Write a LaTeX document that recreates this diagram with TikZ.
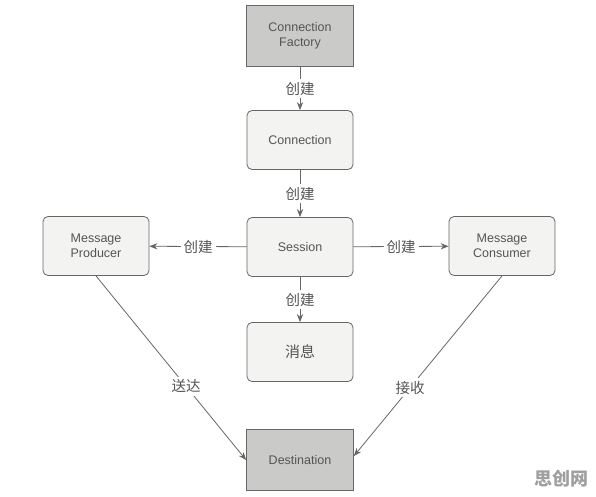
\documentclass[tikz,border=0pt]{standalone}
\usepackage{fontspec}
\setmainfont{Liberation Sans}
\newfontfamily\cjk{Noto Sans CJK SC}
\usetikzlibrary{arrows.meta, positioning}
\definecolor{linegray}{HTML}{666666}
\definecolor{textgray}{HTML}{555555}
\definecolor{lightfill}{HTML}{F3F3F1}
\definecolor{darkfill}{HTML}{CACAC8}
\tikzset{
  box/.style={draw=linegray, line width=0.8pt, rounded corners=5pt, fill=lightfill, minimum height=59pt, minimum width=106pt, text=textgray, align=center, font=\fontsize{12.5}{15}\selectfont},
  sq/.style={draw=linegray, line width=0.8pt, fill=darkfill, minimum height=61pt, minimum width=107pt, text=textgray, align=center, font=\fontsize{12.5}{15}\selectfont},
  arr/.style={-{Stealth[length=2.8mm, width=2.2mm]}, draw=linegray, line width=0.8pt},
  lbl/.style={fill=white, text=textgray, inner sep=3pt, font=\cjk\fontsize{14.5}{16}\selectfont},
}

\begin{document}
\begin{tikzpicture}[x=1pt, y=-1pt]
  \useasboundingbox (0,0) rectangle (596,497);
  \node[sq] (factory) at (300,36) {Connection\\Factory};
  \node[box] (conn) at (300,140) {Connection};
  \node[box] (session) at (300,247) {Session};
  \node[box] (msg) at (300,352) {{\cjk\fontsize{15}{16}\selectfont 消息}};
  \node[sq] (dest) at (300,460) {Destination};
  \node[box] (producer) at (96,246) {Message\\Producer};
  \node[box] (consumer) at (502,246) {Message\\Consumer};
  \draw[arr] (factory) -- node[lbl] {创建} (conn);
  \draw[arr] (conn) -- node[lbl] {创建} (session);
  \draw[arr] (session) -- node[lbl] {创建} (msg);
  \draw[arr] (session) -- node[lbl] {创建} (producer);
  \draw[arr] (session) -- node[lbl] {创建} (consumer);
  \draw[arr] (producer.south) -- node[lbl, pos=0.6] {送达} (dest.west);
  \draw[arr] (consumer.south) -- node[lbl, pos=0.62] {接收} ([yshift=4pt]dest.east);
  % watermark
  \node[text=gray!75, font=\cjk\bfseries\fontsize{18}{20}\selectfont] (mark) at (561,479) {思创网};
\end{tikzpicture}
\end{document}
